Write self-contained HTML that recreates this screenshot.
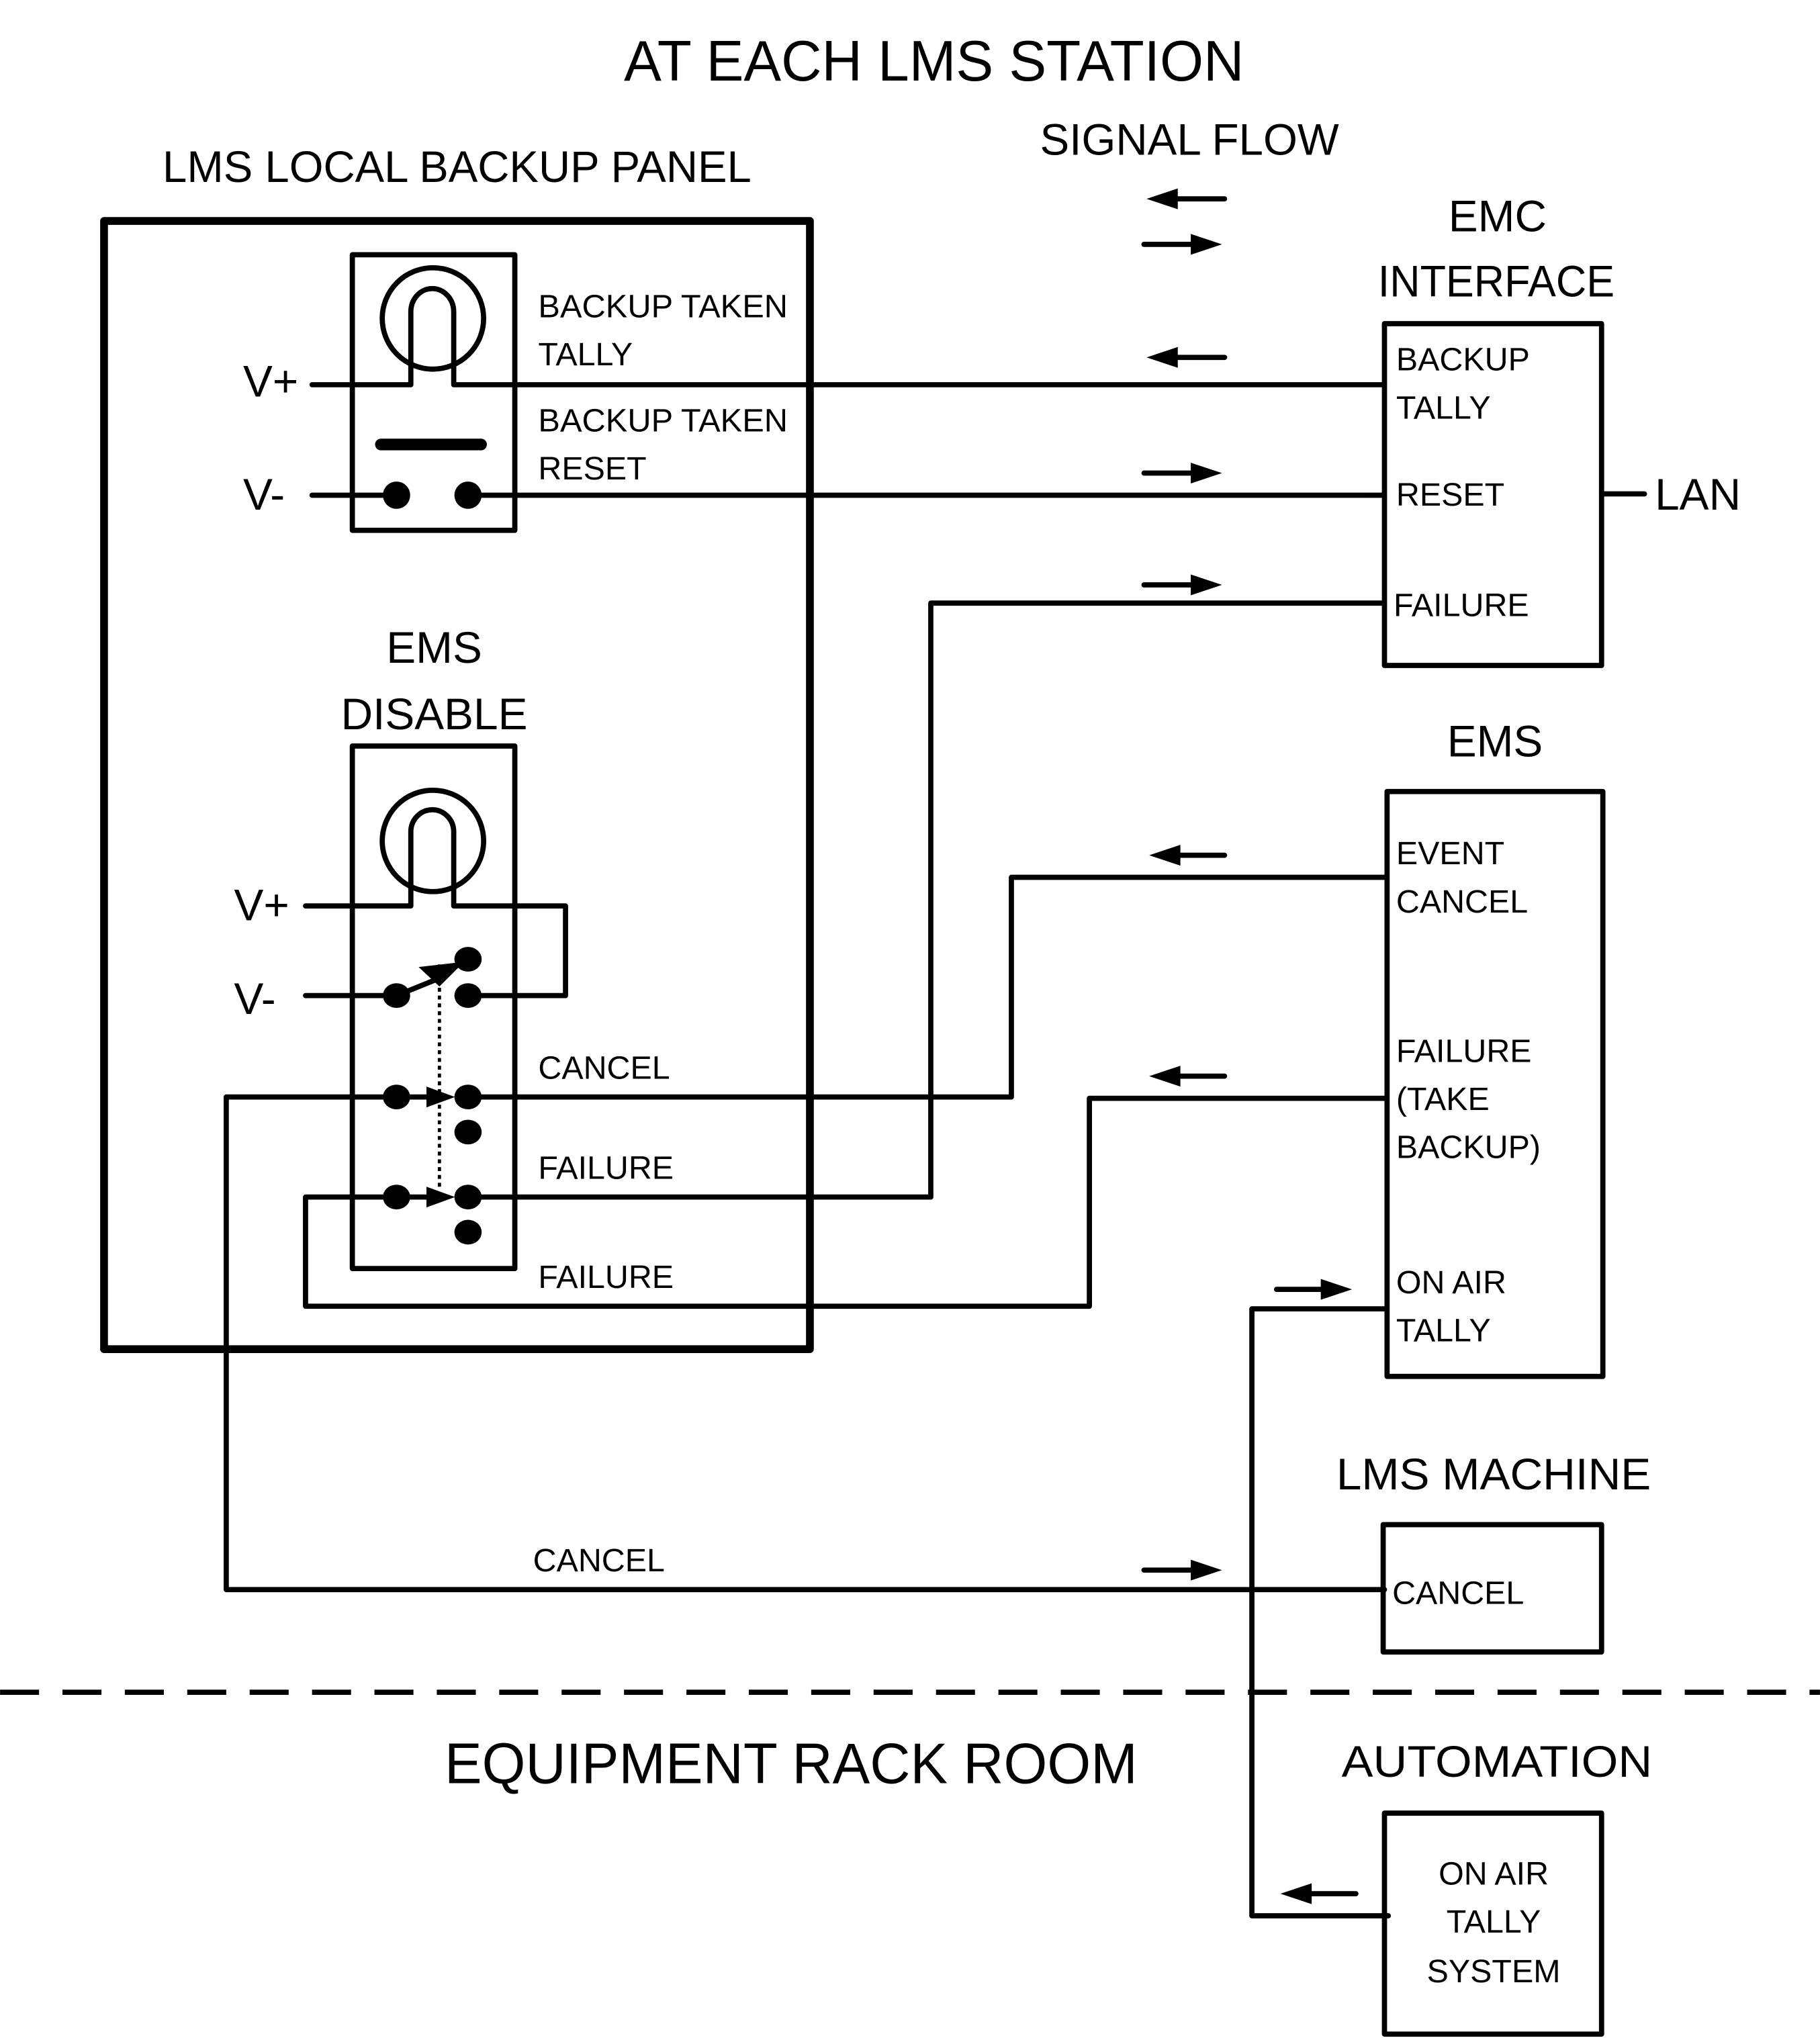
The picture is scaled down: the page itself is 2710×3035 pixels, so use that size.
<!DOCTYPE html>
<html><head><meta charset="utf-8"><style>
html,body{margin:0;padding:0;background:#fff;}
svg{display:block;}
text{font-family:"Liberation Sans",sans-serif;fill:#000;}
</style></head><body>
<svg width="2710" height="3035" viewBox="0 0 1400 1568" xmlns="http://www.w3.org/2000/svg">
<rect width="1400" height="1568" fill="#fff"/>
<g fill="none" stroke="#000" stroke-width="4" stroke-linejoin="round" stroke-linecap="round">
<!-- panel -->
<rect x="80" y="170" width="543" height="868" stroke-width="6"/>
<!-- switch 1 -->
<rect x="271" y="196" width="125" height="212"/>
<circle cx="333" cy="245" r="39"/>
<path d="M240 296 H316 V240 A16.5 18 0 0 1 349 240 V296 H1065"/>
<line x1="293" y1="342" x2="370" y2="342" stroke-width="9"/>
<line x1="240" y1="381" x2="305" y2="381"/>
<line x1="360" y1="381" x2="1065" y2="381"/>
<!-- switch 2 -->
<rect x="271" y="574" width="125" height="402"/>
<circle cx="333" cy="647" r="39"/>
<path d="M235 697 H316 V640 A16.5 17 0 0 1 349 640 V697 H435 V766 H360"/>
<line x1="235" y1="766" x2="305" y2="766"/>
<line x1="305" y1="766" x2="342" y2="751"/>
<line x1="338" y1="742" x2="338" y2="915" stroke-width="2.5" stroke-dasharray="3 3" stroke-linecap="butt"/>
<!-- cancel row -->
<path d="M305 844 H174 V1223 H1065"/>
<line x1="305" y1="844" x2="330" y2="844"/>
<path d="M360 844 H778 V675 H1065"/>
<!-- failure row -->
<path d="M305 921 H235 V1005 H838 V845 H1065"/>
<line x1="305" y1="921" x2="330" y2="921"/>
<path d="M360 921 H716 V464 H1065"/>
<!-- on air tally -->
<path d="M1065 1007 H963 V1474 H1068"/>
<!-- boxes -->
<rect x="1065" y="249" width="167" height="263"/>
<line x1="1232" y1="380" x2="1265" y2="380"/>
<rect x="1067" y="609" width="166" height="450"/>
<rect x="1064" y="1173" width="168" height="98"/>
<rect x="1065" y="1395" width="167" height="170"/>
<!-- dashed -->
<line x1="0" y1="1302" x2="1400" y2="1302" stroke-dasharray="30 18" stroke-linecap="butt"/>
<!-- arrow shafts -->
<line x1="902" y1="153" x2="942" y2="153"/>
<line x1="880" y1="188" x2="920" y2="188"/>
<line x1="902" y1="275" x2="942" y2="275"/>
<line x1="880" y1="364" x2="920" y2="364"/>
<line x1="880" y1="450" x2="920" y2="450"/>
<line x1="904" y1="658" x2="942" y2="658"/>
<line x1="904" y1="828" x2="942" y2="828"/>
<line x1="982" y1="992" x2="1020" y2="992"/>
<line x1="880" y1="1208" x2="920" y2="1208"/>
<line x1="1005" y1="1457" x2="1043" y2="1457"/>
</g>
<g fill="#000">
<circle cx="305" cy="381" r="10.5"/><circle cx="360" cy="381" r="10.5"/>
<ellipse cx="305" cy="766" rx="10.5" ry="9.5"/><ellipse cx="360" cy="738" rx="10.5" ry="9.5"/><ellipse cx="360" cy="766" rx="10.5" ry="9.5"/>
<ellipse cx="305" cy="844" rx="10.5" ry="9.5"/><ellipse cx="360" cy="844" rx="10.5" ry="9.5"/><ellipse cx="360" cy="871" rx="10.5" ry="9.5"/>
<ellipse cx="305" cy="921" rx="10.5" ry="9.5"/><ellipse cx="360" cy="921" rx="10.5" ry="9.5"/><ellipse cx="360" cy="948" rx="10.5" ry="9.5"/>
<polygon points="357,740 322,744 338,759"/>
<polygon points="350,844 328,836 328,852"/>
<polygon points="350,921 328,913 328,929"/>
<polygon points="882,153 906,145 906,161"/>
<polygon points="940,188 916,180 916,196"/>
<polygon points="882,275 906,267 906,283"/>
<polygon points="940,364 916,356 916,372"/>
<polygon points="940,450 916,442 916,458"/>
<polygon points="884,658 908,650 908,666"/>
<polygon points="884,828 908,820 908,836"/>
<polygon points="1040,992 1016,984 1016,1000"/>
<polygon points="940,1208 916,1200 916,1216"/>
<polygon points="985,1457 1009,1449 1009,1465"/>
</g>
<text x="480" y="62" font-size="44" textLength="477" lengthAdjust="spacingAndGlyphs">AT EACH LMS STATION</text>
<text x="125" y="140" font-size="34" textLength="453" lengthAdjust="spacingAndGlyphs">LMS LOCAL BACKUP PANEL</text>
<text x="800" y="119" font-size="34" textLength="230" lengthAdjust="spacingAndGlyphs">SIGNAL FLOW</text>
<text x="1152" y="178" font-size="34" text-anchor="middle">EMC</text>
<text x="1060" y="228" font-size="34" textLength="182" lengthAdjust="spacingAndGlyphs">INTERFACE</text>
<text x="1273" y="392" font-size="34">LAN</text>
<g font-size="34"><text x="187" y="305">V+</text><text x="187" y="392">V-</text>
<text x="180" y="708">V+</text><text x="180" y="780">V-</text></g>
<text x="334" y="510" font-size="34" text-anchor="middle">EMS</text>
<text x="334" y="561" font-size="34" text-anchor="middle">DISABLE</text>
<text x="1150" y="582" font-size="34" text-anchor="middle">EMS</text>
<text x="1028" y="1146" font-size="34" textLength="242" lengthAdjust="spacingAndGlyphs">LMS MACHINE</text>
<text x="1032" y="1367" font-size="34" textLength="239" lengthAdjust="spacingAndGlyphs">AUTOMATION</text>
<text x="342" y="1372" font-size="44" textLength="533" lengthAdjust="spacingAndGlyphs">EQUIPMENT RACK ROOM</text>
<g font-size="25">
<text x="414" y="244" textLength="192" lengthAdjust="spacingAndGlyphs">BACKUP TAKEN</text>
<text x="414" y="281">TALLY</text>
<text x="414" y="332" textLength="192" lengthAdjust="spacingAndGlyphs">BACKUP TAKEN</text>
<text x="414" y="369">RESET</text>
<text x="414" y="830">CANCEL</text>
<text x="414" y="907">FAILURE</text>
<text x="414" y="991">FAILURE</text>
<text x="410" y="1209">CANCEL</text>
<text x="1074" y="285">BACKUP</text>
<text x="1074" y="322">TALLY</text>
<text x="1074" y="389">RESET</text>
<text x="1072" y="474">FAILURE</text>
<text x="1074" y="665">EVENT</text>
<text x="1074" y="702">CANCEL</text>
<text x="1074" y="817">FAILURE</text>
<text x="1074" y="854">(TAKE</text>
<text x="1074" y="891">BACKUP)</text>
<text x="1074" y="995">ON AIR</text>
<text x="1074" y="1032">TALLY</text>
<text x="1071" y="1234">CANCEL</text>
<text x="1149" y="1450" text-anchor="middle">ON AIR</text>
<text x="1149" y="1487" text-anchor="middle">TALLY</text>
<text x="1149" y="1525" text-anchor="middle">SYSTEM</text>
</g>
</svg>
</body></html>
